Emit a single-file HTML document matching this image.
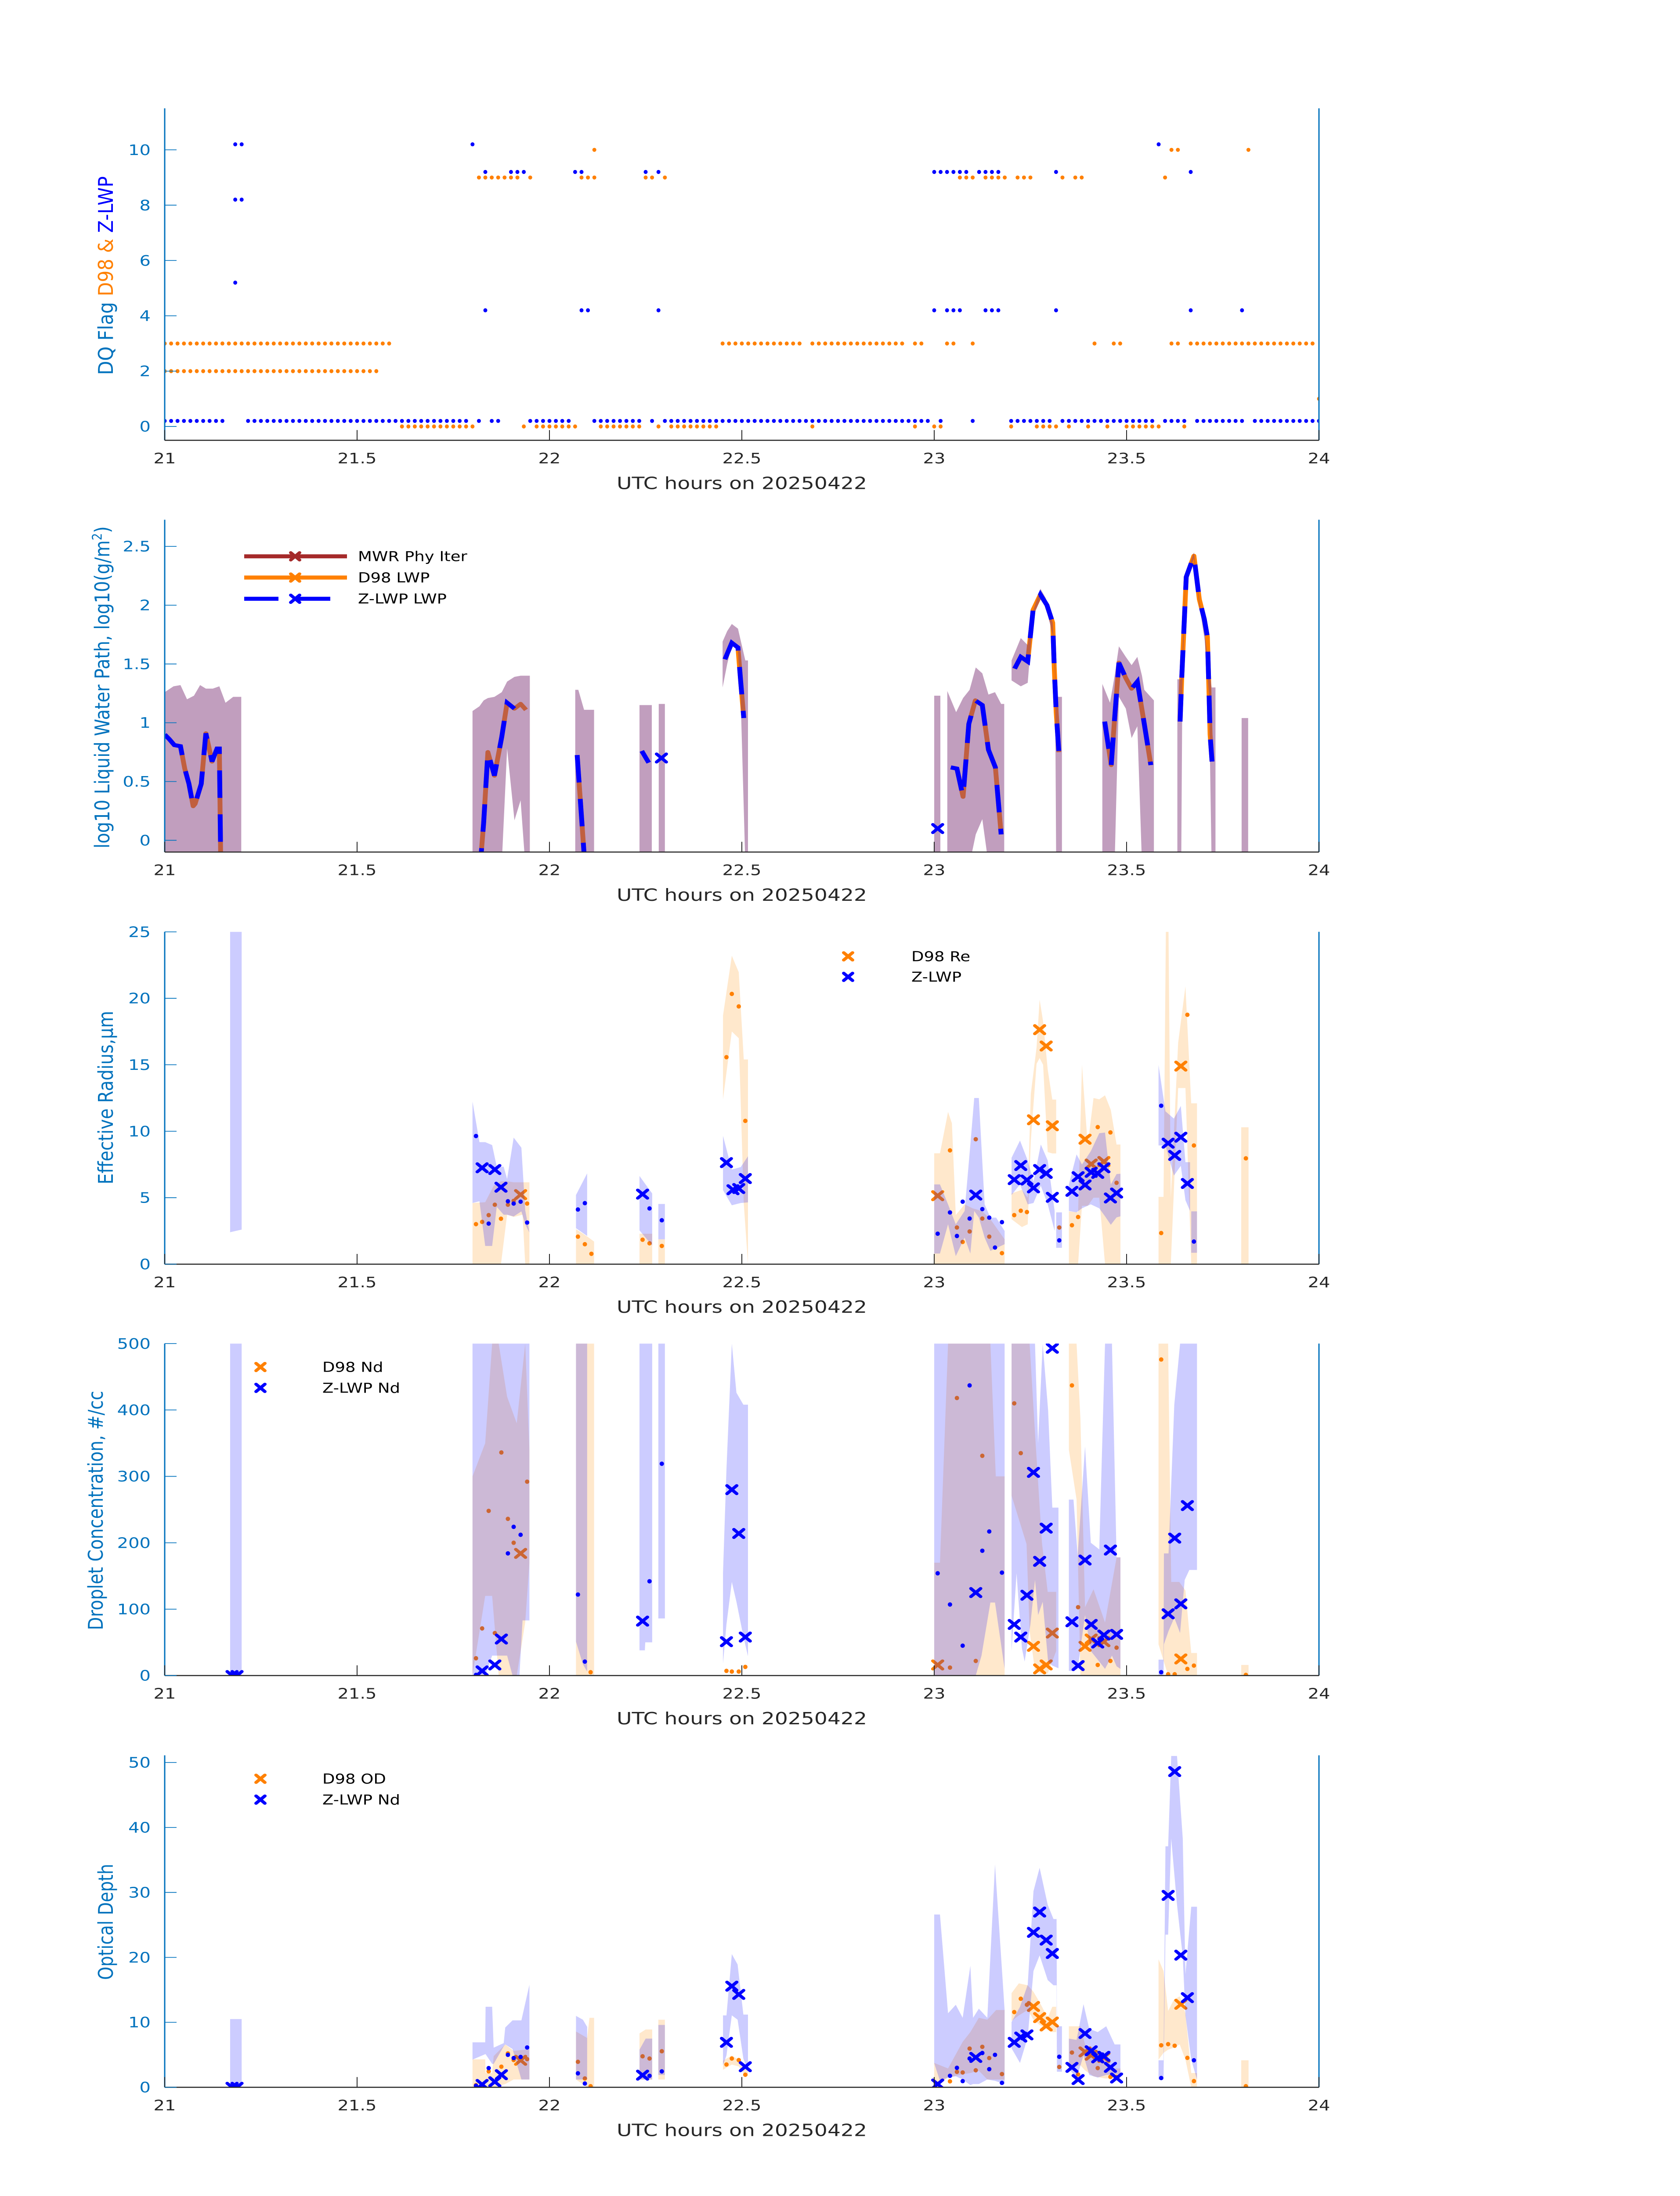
<!DOCTYPE html>
<html><head><meta charset="utf-8">
<style>
html,body{margin:0;padding:0;background:#fff;overflow:hidden;width:100vw;height:100vh;}
svg{display:block;position:absolute;left:0;top:0;width:100vw;height:100vh;font-family:"DejaVu Sans","Liberation Sans",sans-serif;}
</style></head>
<body>
<svg id="fig" xmlns="http://www.w3.org/2000/svg" viewBox="0 0 3825 6000" preserveAspectRatio="none">
<rect x="0" y="0" width="3825" height="6000" fill="#fff"/>
</svg>
<script>
// ---------- Panel 1: DQ flags (runs of minute indices: [start,end,flag]) ----------
const zFlagRuns = [[0,9,0],[13,47,0],[49,49,0],[51,52,0],[57,63,0],[67,74,0],[76,76,0],[78,119,0],[121,121,0],[126,126,0],[132,138,0],[140,154,0],[156,159,0],[161,168,0],[170,180,0],
 [50,50,9],[54,56,9],[64,65,9],[75,75,9],[77,77,9],[120,125,9],[127,130,9],[139,139,9],[160,160,9],
 [11,12,10],[48,48,10],[155,155,10],[11,12,8],[11,11,5],
 [50,50,4],[65,66,4],[77,77,4],[120,120,4],[122,124,4],[128,130,4],[139,139,4],[160,160,4],[168,168,4]];
const dFlagRuns = [[0,35,3],[87,99,3],[101,115,3],[117,118,3],[122,123,3],[126,126,3],[145,145,3],[148,149,3],[157,158,3],[160,179,3],
 [0,33,2],
 [37,48,0],[56,56,0],[58,64,0],[68,74,0],[77,77,0],[79,86,0],[101,101,0],[117,117,0],[120,121,0],[132,132,0],[136,139,0],[141,141,0],[144,144,0],[147,147,0],[150,155,0],[159,159,0],
 [49,55,9],[57,57,9],[65,67,9],[75,76,9],[78,78,9],[124,126,9],[128,131,9],[133,135,9],[140,140,9],[142,143,9],[156,156,9],
 [67,67,10],[157,158,10],[169,169,10],[180,180,1]];

// ---------- Panel 2: LWP ----------
const mwrT  = [21.0,21.023,21.041,21.058,21.076,21.092,21.107,21.125,21.142,21.158,21.178,21.199,null,
 21.80,21.818,21.829,21.84,21.857,21.876,21.89,21.909,21.925,21.937,21.949,null,
 22.067,22.075,22.090,22.116,null,22.234,22.266,null,22.284,22.300,null,
 22.450,22.462,22.474,22.490,22.497,22.509,22.516,null,23.0,23.016,null,
 23.034,23.057,23.075,23.092,23.108,23.125,23.141,23.158,23.174,23.182,null,
 23.201,23.225,23.243,23.257,23.276,23.290,23.308,23.314,23.317,23.332,null,
 23.437,23.457,23.469,23.480,23.498,23.513,23.528,23.540,23.546,23.571,null,
 23.632,23.642,23.645,23.653,23.675,23.689,23.703,23.714,23.721,23.731,null,23.799,23.816];
const mwrHi = [1.26,1.31,1.32,1.20,1.23,1.32,1.29,1.29,1.31,1.17,1.22,1.22,null,
 1.10,1.14,1.19,1.21,1.22,1.26,1.35,1.39,1.40,1.40,1.40,null,
 1.28,1.28,1.11,1.11,null,1.15,1.15,null,1.16,1.16,null,
 1.69,1.78,1.84,1.80,1.70,1.53,1.53,null,1.23,1.23,null,
 1.27,1.09,1.21,1.28,1.47,1.42,1.24,1.26,1.16,1.16,null,
 1.53,1.72,1.66,1.95,2.14,2.06,1.85,1.50,1.22,1.22,null,
 1.33,1.17,1.40,1.65,1.56,1.49,1.56,1.40,1.28,1.19,null,
 1.37,1.37,1.60,2.24,2.45,2.04,1.76,1.47,1.30,1.30,null,1.04,1.04];
const mwrLo = [-0.2,-0.2,-0.2,-0.2,-0.2,-0.2,-0.2,-0.2,-0.2,-0.2,-0.2,-0.2,null,
 -0.2,-0.2,-0.2,-0.2,-0.2,-0.2,0.78,0.17,0.34,-0.2,-0.2,null,
 -0.2,-0.2,-0.2,-0.2,null,-0.2,-0.2,null,-0.2,-0.2,null,
 1.30,1.50,1.66,1.61,1.20,-0.2,-0.2,null,-0.2,-0.2,null,
 -0.2,-0.2,-0.2,-0.2,0.05,0.18,-0.2,-0.2,-0.2,-0.2,null,
 1.36,1.31,1.34,1.90,2.05,1.98,1.75,1.40,-0.2,-0.2,null,
 -0.2,-0.2,-0.2,1.22,1.12,0.87,0.97,-0.2,-0.2,-0.2,null,
 -0.2,-0.2,1.30,2.20,2.40,2.00,1.70,1.25,-0.2,-0.2,null,-0.2,-0.2];
const lwpT = [21.0,21.012,21.025,21.041,21.052,21.063,21.074,21.079,21.095,21.107,21.123,21.136,21.142,21.146,null,
 21.818,21.829,21.840,21.857,21.876,21.890,21.909,21.925,21.939,null,22.072,22.094,null,22.240,22.258,null,
 22.456,22.474,22.490,22.497,22.505,null,
 23.043,23.059,23.075,23.090,23.107,23.125,23.141,23.159,23.174,null,
 23.209,23.225,23.243,23.257,23.276,23.293,23.308,23.312,23.317,23.324,null,
 23.443,23.460,23.469,23.480,23.498,23.513,23.528,23.546,23.563,null,
 23.639,23.643,23.655,23.675,23.689,23.702,23.710,23.714,23.717,23.722];
const d98Lwp = [0.90,0.86,0.81,0.80,0.61,0.48,0.29,0.31,0.48,0.91,0.67,0.78,0.78,-0.3,null,
 -0.3,0.15,0.75,0.55,0.88,1.17,1.12,1.16,1.11,null,0.725,-0.3,null,null,null,null,
 1.54,1.68,1.64,1.35,1.04,null,
 null,0.61,0.37,0.99,1.19,1.15,0.77,0.62,0.05,null,
 1.46,1.56,1.52,1.96,2.09,2.00,1.85,1.47,1.09,0.75,null,
 1.01,0.64,1.04,1.51,1.38,1.29,1.35,0.99,0.64,null,
 1.01,1.36,2.24,2.42,2.05,1.88,1.73,1.28,0.90,0.67];
const zLwp = [0.90,0.86,0.81,0.80,0.61,0.48,0.29,0.31,0.48,0.91,0.67,0.78,0.78,-0.3,null,
 -0.3,0.15,0.75,0.55,0.88,1.17,1.12,null,null,null,0.725,-0.3,null,0.76,0.66,null,
 1.54,1.68,1.64,1.35,1.04,null,
 0.62,0.61,0.37,0.99,1.19,1.15,0.77,0.62,0.05,null,
 1.46,1.56,1.52,1.96,2.09,2.00,1.85,1.47,1.09,0.75,null,
 1.01,0.64,1.04,1.51,1.38,1.29,1.35,0.99,0.64,null,
 1.01,1.36,2.24,2.42,2.05,1.88,1.73,1.28,0.90,0.67];
const lwpZXT = [22.291,23.009];
const lwpZXV = [0.70,0.10];

// ---------- Panel 3: Effective radius ----------
const reZBandT = [21.17,21.20,null,21.80,21.818,21.833,21.851,21.863,21.881,21.89,21.907,21.927,21.937,21.948,null,22.069,22.098,null,22.234,22.267,null,22.283,22.30,null,22.451,22.474,22.497,22.516,null,
 23.0,23.015,23.036,23.056,23.079,23.094,23.104,23.116,23.131,23.146,23.161,23.183,null,23.201,23.223,23.243,23.258,23.277,23.295,23.313,null,23.317,23.332,null,
 23.350,23.370,23.384,23.407,23.429,23.444,23.459,23.474,23.484,null,23.583,23.601,23.623,23.641,23.653,23.665,null,23.668,23.683];
const reZBandHi = [25,25,null,12.24,9.18,9.18,8.96,7.33,7.33,6.41,9.52,8.76,4.06,2.38,null,5.2,6.83,null,6.63,5.32,null,4.53,4.53,null,9.65,7.12,7.3,8.12,null,
 6.0,6.0,4.5,3.0,4.0,9.0,12.5,12.5,4.5,3.5,3.5,2.5,null,8.0,9.3,7.8,6.2,9.0,7.8,4.0,null,3.9,3.9,null,
 6.0,8.26,7.5,8.5,9.85,9.9,6.0,6.78,6.8,null,14.98,11.5,10.95,11.9,7.67,7.67,null,3.97,3.97];
const reZBandLo = [2.4,2.6,null,4.6,4.73,1.37,1.37,4.31,3.72,3.72,3.59,3.97,3.0,2.38,null,2.71,2.12,null,2.54,1.40,null,1.87,1.87,null,5.57,4.43,4.6,4.65,null,
 0.8,0.8,3.0,0.6,2.0,0.8,4.0,3.5,2.0,1.0,1.2,1.5,null,5.2,6.0,4.5,4.6,5.9,4.5,2.5,null,1.23,1.23,null,
 4.0,3.9,4.2,4.5,4.2,3.6,2.96,3.52,3.6,null,8.93,8.93,6.66,7.4,4.81,4.0,null,0.86,0.86];
const reDBandT = [21.80,21.833,21.855,21.874,21.89,21.907,21.93,21.937,21.948,null,22.069,22.087,22.102,22.116,null,22.234,22.267,null,22.283,22.30,null,22.451,22.474,22.492,22.505,22.516,null,
 23.0,23.015,23.036,23.046,23.056,23.079,23.100,23.124,23.146,23.183,null,23.201,23.228,23.243,23.251,23.266,23.274,23.283,23.295,23.307,23.317,null,
 23.350,23.374,23.384,23.399,23.414,23.429,23.444,23.459,23.474,23.484,null,23.583,23.596,23.602,23.609,23.615,23.634,23.653,23.668,23.683,null,23.798,23.817];
const reDBandHi = [4.6,4.66,5.9,6.24,6.24,6.16,6.16,6.16,6.16,null,2.63,2.3,2.0,1.7,null,2.29,2.29,null,1.87,1.87,null,18.7,23.2,21.96,15.4,15.4,null,
 8.34,8.34,11.45,10.6,3.7,4.5,4.2,4.0,3.38,1.87,null,5.32,5.6,5.0,12.8,16.3,19.9,18.26,14.65,12.38,12.38,null,
 3.97,3.9,15.0,8.93,12.5,12.4,12.7,11.6,9.0,9.0,null,5.06,5.06,25,25,5.0,16.66,20.9,12.1,12.1,null,10.3,10.3];
const reDBandLo = [0,0,0,0,3.72,3.55,3.72,0,0,null,0,0,0,0,null,0,0,null,0,0,null,12.4,17.5,17.0,4.56,0,null,
 0,0,0,0,0,0,0,0,0,0,null,3.38,2.79,3.0,9.27,15.07,15.5,15.0,8.43,8.33,8.33,null,
 0,0,4.39,4.39,5,5,0,0,0,0,null,0,0,0,0,0,13.25,13.25,0,0,null,0,0];
const reZXT = [21.825,21.858,21.874,22.242,22.46,22.477,22.492,22.509,23.108,23.208,23.225,23.241,23.258,23.274,23.291,23.307,23.358,23.374,23.392,23.408,23.425,23.441,23.458,23.474,23.608,23.625,23.641,23.658];
const reZXV = [7.25,7.12,5.79,5.27,7.64,5.6,5.69,6.44,5.2,6.36,7.42,6.33,5.74,7.12,6.83,5.03,5.48,6.58,5.96,6.91,6.83,7.25,4.98,5.35,9.10,8.18,9.55,6.07];
const reDXT = [21.925,23.009,23.258,23.274,23.291,23.307,23.392,23.408,23.441,23.641];
const reDXV = [5.23,5.15,10.86,17.64,16.41,10.41,9.40,7.53,7.72,14.9];
const reZDotT = [21.809,21.842,21.892,21.907,21.925,21.942,22.074,22.092,22.26,22.292,23.009,23.041,23.059,23.074,23.092,23.125,23.143,23.158,23.176,23.325,23.59,23.675];
const reZDotV = [9.64,3.05,4.73,4.56,4.7,3.13,4.11,4.59,4.19,3.3,2.29,3.89,2.12,4.7,3.43,4.14,3.5,1.25,3.16,1.79,11.92,1.7];
const reDDotT = [21.809,21.825,21.842,21.858,21.874,21.892,21.907,21.942,22.074,22.092,22.109,22.242,22.26,22.292,22.46,22.474,22.492,22.509,23.041,23.059,23.074,23.092,23.108,23.125,23.143,23.176,23.208,23.225,23.241,23.325,23.358,23.374,23.425,23.458,23.474,23.59,23.658,23.675,23.81];
const reDDotV = [3.01,3.18,3.69,4.47,3.42,4.47,4.76,4.56,2.07,1.5,0.78,1.84,1.57,1.37,15.57,20.33,19.39,10.78,8.56,2.76,1.67,2.46,9.40,3.43,2.07,0.83,3.69,4.02,3.92,2.76,2.93,3.55,10.31,9.91,6.12,2.34,18.76,8.93,7.96];

// ---------- Panel 4: Droplet concentration ----------
const ndZBandT = [21.17,21.20,null,21.80,21.833,21.851,21.878,21.89,21.904,21.922,21.93,21.948,null,22.069,22.087,22.098,null,22.234,22.248,22.249,22.267,null,22.283,22.30,null,
 22.451,22.460,22.474,22.486,22.504,22.516,null,23.0,23.041,23.071,23.094,23.108,23.123,23.146,23.158,23.183,null,
 23.201,23.214,23.228,23.235,23.250,23.262,23.270,23.282,23.296,23.307,23.323,null,23.350,23.362,23.373,23.392,23.407,23.429,23.444,23.462,23.474,23.484,null,
 23.583,23.596,23.597,23.609,23.624,23.639,23.651,23.663,23.668,23.683];
const ndZBandHi = [500,500,null,500,500,500,500,500,500,500,500,500,null,500,500,500,null,500,500,500,500,null,500,500,null,
 154,311,500,426,408,408,null,500,500,500,500,500,500,500,500,500,null,
 500,500,500,500,500,500,350,500,400,253,253,null,265,265,180,345,200,190,500,500,178,178,null,
 24,24,184,184,408,500,500,500,500,500];
const ndZBandLo = [0,0,null,0,0,30,30,30,0,0,83,83,null,51,17,6,null,38,38,50,50,null,86,86,null,
 18,77,141,111,59,29,null,0,0,0,0,0,30,110,110,10,null,
 37,154,41,21,77,144,91,111,21,15,11,null,7,7,10,91,37,21,10,30,14,10,null,
 0,0,47,67,87,64,144,159,159,159];
const ndDBandT = [21.80,21.833,21.851,21.868,21.89,21.915,21.937,21.948,null,22.069,22.116,null,23.0,23.015,23.036,23.146,23.16,23.183,null,
 23.201,23.24,23.248,23.262,23.28,23.295,23.317,null,23.350,23.370,23.380,23.392,23.414,23.444,23.474,23.484,null,
 23.583,23.608,23.616,23.637,23.653,23.668,23.683,null,23.798,23.817];
const ndDBandHi = [300,350,500,500,420,380,500,340,null,500,500,null,170,170,500,500,300,300,null,
 500,500,500,365,200,126,126,null,500,500,387,103,130,80,178,178,null,
 500,500,141,141,128,34,34,null,16,16];
const ndDBandLo = [0,120,120,0,0,0,80,170,null,0,0,null,0,0,0,0,0,0,null,
 271,198,67,7,3,3,37,null,340,265,0,0,0,0,0,0,null,
 47,0,0,0,0,0,0,null,0,0];
const ndZXT = [21.175,21.188,21.825,21.858,21.875,22.242,22.46,22.474,22.492,22.509,23.108,23.208,23.225,23.241,23.258,23.274,23.291,23.307,23.358,23.374,23.392,23.408,23.425,23.441,23.458,23.474,23.608,23.625,23.641,23.658];
const ndZXV = [0,0,7,16,55,82,51,280,214,58,125,77,58,121,306,172,222,493,81,15,174,77,49,61,189,62,93,207,108,256];
const ndDXT = [21.925,23.009,23.258,23.274,23.291,23.307,23.392,23.408,23.441,23.641];
const ndDXV = [184,16,44,10,16,64,44,55,51,25];
const ndZDotT = [21.809,21.892,21.907,21.925,22.074,22.092,22.26,22.292,23.009,23.041,23.074,23.092,23.125,23.143,23.176,23.59];
const ndZDotV = [1,184,224,212,122,21,142,319,154,107,45,437,188,217,155,5];
const ndDDotT = [21.809,21.825,21.842,21.858,21.875,21.892,21.907,21.942,22.107,22.46,22.474,22.492,22.509,23.041,23.059,23.108,23.125,23.208,23.225,23.358,23.374,23.425,23.458,23.474,23.59,23.608,23.625,23.658,23.675,23.81];
const ndDDotV = [26,71,248,64,336,236,200,292,5,7,6,6,13,12,418,22,331,410,335,437,103,16,22,42,476,2,2,10,15,1];

// ---------- Panel 5: Optical depth ----------
const odZBandT = [21.17,21.20,null,21.80,21.833,21.834,21.851,21.855,21.881,21.885,21.904,21.927,21.948,null,22.069,22.087,22.098,null,22.234,22.250,22.267,null,22.283,22.30,null,
 22.451,22.460,22.474,22.489,22.504,22.516,null,23.0,23.015,23.036,23.056,23.074,23.094,23.101,23.116,23.138,23.158,23.183,null,
 23.201,23.223,23.243,23.258,23.274,23.295,23.310,23.318,23.319,23.332,null,23.350,23.370,23.388,23.403,23.425,23.447,23.469,23.484,null,
 23.583,23.596,23.601,23.608,23.616,23.631,23.646,23.653,23.668,23.683];
const odZBandHi = [10.5,10.5,null,6.92,6.92,12.4,12.4,6.1,6.8,9.2,10.3,10.3,15.8,null,11.0,10.4,9.3,null,5.8,7.5,7.5,null,9.6,9.6,null,
 11.07,11.07,20.5,18.9,11.2,11.2,null,26.6,26.6,11.4,12.7,10.7,18.7,10.7,12.1,10.7,34.3,11.9,null,
 10.05,12.4,15.8,30.2,33.8,28.1,25.9,25.9,9.4,9.4,null,7.5,7.3,12.8,9.0,8.5,9.4,6.6,6.6,null,
 4.16,4.16,37.1,37.1,51,51,38.3,17.4,27.8,27.8];
const odZBandLo = [0,0,null,4.26,5.1,5.1,3.6,3.6,6.3,6.6,5.9,1.2,1.2,null,1.2,1.2,1.2,null,1.2,1.2,1.2,null,1.9,1.9,null,
 3.4,4.9,11.07,10.4,4.4,2.56,null,3.7,1.0,1.5,1.7,1.2,0.34,0.5,0.5,1.2,1.0,0.5,null,
 6.0,3.75,7.7,17.9,20.3,16.5,15.7,15.7,2.4,2.4,null,2.9,1.36,4.9,1.9,1.5,1.9,2.0,2.0,null,
 1.2,1.2,23.5,23.5,38.3,28.1,20.1,11.07,4.26,1.2];
const odDBandT = [21.80,21.833,21.834,21.851,21.855,21.885,21.907,21.937,21.948,null,22.069,22.098,22.104,22.116,null,22.234,22.250,22.267,null,22.283,22.30,null,
 22.451,22.474,22.492,22.504,22.516,null,23.0,23.036,23.074,23.094,23.116,23.138,23.161,23.183,null,
 23.201,23.220,23.243,23.258,23.274,23.295,23.307,23.317,null,23.350,23.380,23.392,23.414,23.444,23.466,23.484,null,
 23.583,23.596,23.608,23.623,23.638,23.653,23.668,23.683,null,23.798,23.817];
const odDBandHi = [4.3,4.3,2.2,2.2,4.8,6.6,5.6,5.8,5.8,null,8.6,7.6,10.7,10.7,null,8.3,8.9,8.9,null,10.4,10.4,null,
 4.1,4.9,4.2,3.5,2.6,null,3.75,2.9,7.0,8.5,10.7,10.4,11.9,11.9,null,
 14.5,16.0,15.7,14.7,13.1,10.7,12.4,12.4,null,9.4,9.4,6.6,5.9,4.6,2.9,2.9,null,
 19.7,17.9,11.75,13.5,14.0,11.4,2.2,2.2,null,4.16,4.16];
const odDBandLo = [0,0,0,0,0,0.5,1.2,1.2,1.2,null,1.2,0,0,0,null,1.2,1.2,1.2,null,1.2,1.2,null,
 2.7,3.5,3.2,2.2,1.7,null,0,1.5,2.0,2.2,2.56,1.2,1.2,1.2,null,
 10.2,11.07,11.9,10.4,9.6,8.9,8.5,8.5,null,2.9,3.4,2.6,1.7,1.36,1.36,1.36,null,
 4.26,5.3,5.8,6.1,6.6,4.26,0,0,null,0,0];
const odZXT = [21.175,21.188,21.825,21.858,21.875,22.242,22.46,22.474,22.492,22.509,23.009,23.108,23.208,23.225,23.241,23.258,23.274,23.291,23.307,23.358,23.374,23.392,23.408,23.425,23.441,23.458,23.474,23.608,23.625,23.641,23.658];
const odZXV = [0,0,0.44,0.85,1.94,1.87,6.92,15.57,14.3,3.17,0.5,4.6,6.92,7.73,8.07,23.85,26.98,22.66,20.6,3.07,1.19,8.28,5.62,4.53,4.77,3.07,1.43,29.54,48.6,20.34,13.8];
const odDXT = [21.925,23.009,23.258,23.274,23.291,23.307,23.392,23.408,23.441,23.641];
const odDXV = [4.16,0.5,12.44,10.73,9.44,10.05,5.45,4.94,4.6,12.78];
const odZDotT = [21.809,21.842,21.892,21.907,21.925,21.942,22.074,22.092,22.26,22.292,23.041,23.059,23.074,23.092,23.125,23.143,23.158,23.176,23.325,23.59,23.675];
const odZDotV = [0.24,2.96,5.0,4.5,4.67,6.13,2.15,0.58,1.77,2.45,1.77,3.0,0.95,4.43,5.28,2.79,5.0,0.68,4.7,1.43,4.16];
const odDDotT = [21.809,21.842,21.875,21.892,21.907,21.942,22.074,22.092,22.107,22.242,22.26,22.292,22.46,22.474,22.492,22.509,23.041,23.059,23.074,23.092,23.108,23.125,23.143,23.176,23.208,23.225,23.241,23.325,23.358,23.374,23.425,23.458,23.474,23.59,23.608,23.625,23.658,23.675,23.81];
const odDDotV = [0.34,2.45,3.17,5.21,4.19,4.33,3.92,1.36,0.17,4.77,4.43,5.55,3.51,4.43,4.19,1.94,0.92,2.38,2.28,5.96,2.62,6.23,4.5,2.04,11.58,13.63,12.71,3.13,5.35,1.98,2.96,1.6,1.6,6.47,6.64,6.4,4.53,0.95,0.17];

// ---------- axes config ----------
const xTicks = [21,21.5,22,22.5,23,23.5,24];
const xTickLabels = ['21','21.5','22','22.5','23','23.5','24'];
const yTicksP = [[0,2,4,6,8,10],[0,0.5,1,1.5,2,2.5],[0,5,10,15,20,25],[0,100,200,300,400,500],[0,10,20,30,40,50]];
const yTickLabelsP = [['0','2','4','6','8','10'],['0','0.5','1','1.5','2','2.5'],['0','5','10','15','20','25'],['0','100','200','300','400','500'],['0','10','20','30','40','50']];

const NS = 'http://www.w3.org/2000/svg';
const svg = document.getElementById('fig');
const X0 = 375, X1 = 3003;
const P = [
 {top:296, bot:1203, ymin:-0.5, ymax:11.5},
 {top:1420, bot:2328, ymin:-0.1, ymax:2.727},
 {top:2546, bot:3454, ymin:0, ymax:25},
 {top:3671, bot:4578, ymin:0, ymax:500},
 {top:4796, bot:5703, ymin:0, ymax:51.1}];
const BLUE='#0000FF', ORANGE='#FF8000', AXB='#0072BD', DARK='#262626';

function mk(tag, attrs, parent){
  const e = document.createElementNS(NS, tag);
  for (const k in attrs) e.setAttribute(k, attrs[k]);
  (parent||svg).appendChild(e);
  return e;
}
function xs(t){ return X0 + (t-21)/3*(X1-X0); }
function ys(p,v){ return p.bot - (v-p.ymin)/(p.ymax-p.ymin)*(p.bot-p.top); }

const defs = mk('defs',{});
const layers = P.map((p,i)=>{
  const cp = mk('clipPath',{id:'clip'+i},defs);
  mk('rect',{x:X0,y:p.top,width:X1-X0,height:p.bot-p.top},cp);
  const g = mk('g',{'clip-path':'url(#clip'+i+')'});
  
  
  return g;
});

function segments(T){
  const segs=[]; let cur=[];
  T.forEach((t,i)=>{ if(t===null){ if(cur.length) segs.push(cur); cur=[]; } else cur.push(i); });
  if(cur.length) segs.push(cur);
  return segs;
}
function drawBand(pi, T, lo, hi, fill, name){
  const p=P[pi];
  segments(T).forEach(idx=>{
    const up = idx.map(i=>xs(T[i]).toFixed(1)+','+ys(p,hi[i]).toFixed(1));
    const dn = idx.slice().reverse().map(i=>xs(T[i]).toFixed(1)+','+ys(p,lo[i]).toFixed(1));
    const poly = mk('polygon',{points:up.concat(dn).join(' '), fill:fill, stroke:'none'}, layers[pi]);
    
    
  });
}
function drawLine(pi, T, V, attrs, name){
  const p=P[pi]; let pts=[];
  const flush=()=>{ if(pts.length>1){
      const pl = mk('polyline',Object.assign({points:pts.join(' '),fill:'none'},attrs), layers[pi]);
      
      
    } pts=[]; };
  T.forEach((t,i)=>{ if(t===null||V[i]===null) flush(); else pts.push(xs(t).toFixed(1)+','+ys(p,V[i]).toFixed(1)); });
  flush();
}
function xMark(parent, x, y, color, s, w){
  return mk('path',{d:`M${x-s},${y-s}L${x+s},${y+s}M${x-s},${y+s}L${x+s},${y-s}`, stroke:color,'stroke-width':w,'stroke-linecap':'round',fill:'none'}, parent);
}
function drawX(pi, T, V, color, name){
  const p=P[pi];
  T.forEach((t,i)=>{
    const m = xMark(layers[pi], xs(t), ys(p,V[i]), color, 11, 8);
    
    
  });
}
function drawDots(pi, T, V, color, r, name){
  const p=P[pi];
  T.forEach((t,i)=>{
    const c = mk('ellipse',{cx:xs(t).toFixed(1), cy:ys(p,V[i]).toFixed(1), rx:r, ry:r*1.2, fill:color}, layers[pi]);
    
    
  });
}
function drawRuns(pi, runs, offset, color, name){
  const p=P[pi];
  runs.forEach(r=>{
    for(let m=r[0]; m<=r[1]; m++){
      const c = mk('ellipse',{cx:xs(21+m/60).toFixed(1), cy:ys(p,r[2]+offset).toFixed(1), rx:4.5, ry:5.5, fill:color}, layers[pi]);
      
      
    }
  });
}

// ---------- Panel 1 ----------
drawRuns(0, dFlagRuns, 0, ORANGE, 'd98-flag-point');
drawRuns(0, zFlagRuns, 0.2, BLUE, 'zlwp-flag-point');

// ---------- Panel 2 ----------
drawLine(1, lwpT, d98Lwp, {stroke:ORANGE,'stroke-width':11,'stroke-linejoin':'round'}, 'd98-lwp-line');
drawBand(1, mwrT, mwrLo, mwrHi, 'rgba(131,61,125,0.5)', 'mwr-lwp-uncertainty-band');
drawLine(1, lwpT, zLwp, {stroke:BLUE,'stroke-width':11,'stroke-dasharray':'75 45'}, 'zlwp-lwp-line');
drawX(1, lwpZXT, lwpZXV, BLUE, 'zlwp-lwp-marker');

// ---------- Panels 3-5 ----------
const OB='rgba(255,140,0,0.2)', BB='rgba(0,0,255,0.2)';
drawBand(2, reDBandT, reDBandLo, reDBandHi, OB, 'd98-re-band');
drawDots(2, reDDotT, reDDotV, ORANGE, 5, 'd98-re-dot');
drawX(2, reDXT, reDXV, ORANGE, 'd98-re-marker');
drawBand(2, reZBandT, reZBandLo, reZBandHi, BB, 'zlwp-re-band');
drawDots(2, reZDotT, reZDotV, BLUE, 5, 'zlwp-re-dot');
drawX(2, reZXT, reZXV, BLUE, 'zlwp-re-marker');

drawBand(3, ndDBandT, ndDBandLo, ndDBandHi, OB, 'd98-nd-band');
drawDots(3, ndDDotT, ndDDotV, ORANGE, 5, 'd98-nd-dot');
drawX(3, ndDXT, ndDXV, ORANGE, 'd98-nd-marker');
drawBand(3, ndZBandT, ndZBandLo, ndZBandHi, BB, 'zlwp-nd-band');
drawDots(3, ndZDotT, ndZDotV, BLUE, 5, 'zlwp-nd-dot');
drawX(3, ndZXT, ndZXV, BLUE, 'zlwp-nd-marker');

drawBand(4, odDBandT, odDBandLo, odDBandHi, OB, 'd98-od-band');
drawDots(4, odDDotT, odDDotV, ORANGE, 5, 'd98-od-dot');
drawX(4, odDXT, odDXV, ORANGE, 'd98-od-marker');
drawBand(4, odZBandT, odZBandLo, odZBandHi, BB, 'zlwp-od-band');
drawDots(4, odZDotT, odZDotV, BLUE, 5, 'zlwp-od-dot');
drawX(4, odZXT, odZXV, BLUE, 'zlwp-od-marker');

// ---------- Axes ----------
const yLabels = [
  {x:257, y:753, len:543, parts:[['DQ Flag  ',AXB],['D98 &  ',ORANGE],['Z-LWP',BLUE]]},
  {x:249, y:1878, len:880, parts:[['log10 Liquid Water Path, log10(g/m',AXB],['2',AXB,true],[')',AXB]]},
  {x:257, y:2999, len:474, parts:[['Effective Radius,\u03bcm',AXB]]},
  {x:234, y:4127, len:654, parts:[['Droplet Concentration, #/cc',AXB]]},
  {x:257, y:5251, len:317, parts:[['Optical Depth',AXB]]}];

P.forEach((p,i)=>{
  const left = mk('line',{x1:X0,y1:p.top,x2:X0,y2:p.bot,stroke:AXB,'stroke-width':3});
  
  
  const right = mk('line',{x1:X1,y1:p.top,x2:X1,y2:p.bot,stroke:AXB,'stroke-width':3});
  
  
  const bottom = mk('line',{x1:X0,y1:p.bot,x2:X1,y2:p.bot,stroke:DARK,'stroke-width':3});
  
  
  xTicks.forEach((t,k)=>{
    const tk = mk('line',{x1:xs(t),y1:p.bot,x2:xs(t),y2:p.bot-28,stroke:DARK,'stroke-width':2});
    
    
    const tl = mk('text',{x:xs(t),y:p.bot+63,'font-size':40,fill:DARK,'text-anchor':'middle'});
    tl.textContent = xTickLabels[k];
    
    
  });
  yTicksP[i].forEach((v,k)=>{
    const y = ys(p,v);
    const tk = mk('line',{x1:X0,y1:y,x2:X0+27,y2:y,stroke:AXB,'stroke-width':2});
    
    
    const tl = mk('text',{x:X0-32,y:y+14,'font-size':40,fill:AXB,'text-anchor':'end'});
    tl.textContent = yTickLabelsP[i][k];
    
    
  });
  const xt = mk('text',{x:(X0+X1)/2,y:p.bot+133,'font-size':46,fill:DARK,'text-anchor':'middle',textLength:570,lengthAdjust:'spacingAndGlyphs'});
  xt.textContent = 'UTC hours on 20250422';
  
  
  const L = yLabels[i];
  const yt = mk('text',{x:L.x,y:L.y,'font-size':46,'text-anchor':'middle',transform:`rotate(-90 ${L.x} ${L.y})`,textLength:L.len,lengthAdjust:'spacingAndGlyphs'});
  
  
  L.parts.forEach(pt=>{
    const ts = mk('tspan',{fill:pt[1]}, yt);
    if(pt[2]){ ts.setAttribute('baseline-shift','super'); ts.setAttribute('font-size','30'); }
    ts.textContent = pt[0];
  });
});

// ---------- Legends ----------
function legendRow(x0,x1,mx,tx,y,color,label,dash,markColor){
  const g = mk('g',{});
  
  
  if(x1>x0){
    mk('line',Object.assign({x1:x0,y1:y,x2:x1,y2:y,stroke:color,'stroke-width':11}, dash?{'stroke-dasharray':dash}:{}), g);
  }
  xMark(g, mx, y, markColor||color, 10, 8);
  const t = mk('text',{x:tx,y:y+13,'font-size':37,fill:'#000'}, g);
  t.textContent = label;
}
legendRow(556,790,672,815,1520,'#A52A2A','MWR Phy Iter');
legendRow(556,790,672,815,1578,ORANGE,'D98 LWP');
legendRow(556,790,672,815,1636,BLUE,'Z-LWP LWP','78 40');
legendRow(0,0,1931,2075,2613,ORANGE,'D98 Re');
legendRow(0,0,1931,2075,2669,BLUE,'Z-LWP');
legendRow(0,0,593,734,3735,ORANGE,'D98 Nd');
legendRow(0,0,593,734,3792,BLUE,'Z-LWP Nd');
legendRow(0,0,593,734,4860,ORANGE,'D98 OD');
legendRow(0,0,593,734,4917,BLUE,'Z-LWP Nd');
</script>
</body></html>
